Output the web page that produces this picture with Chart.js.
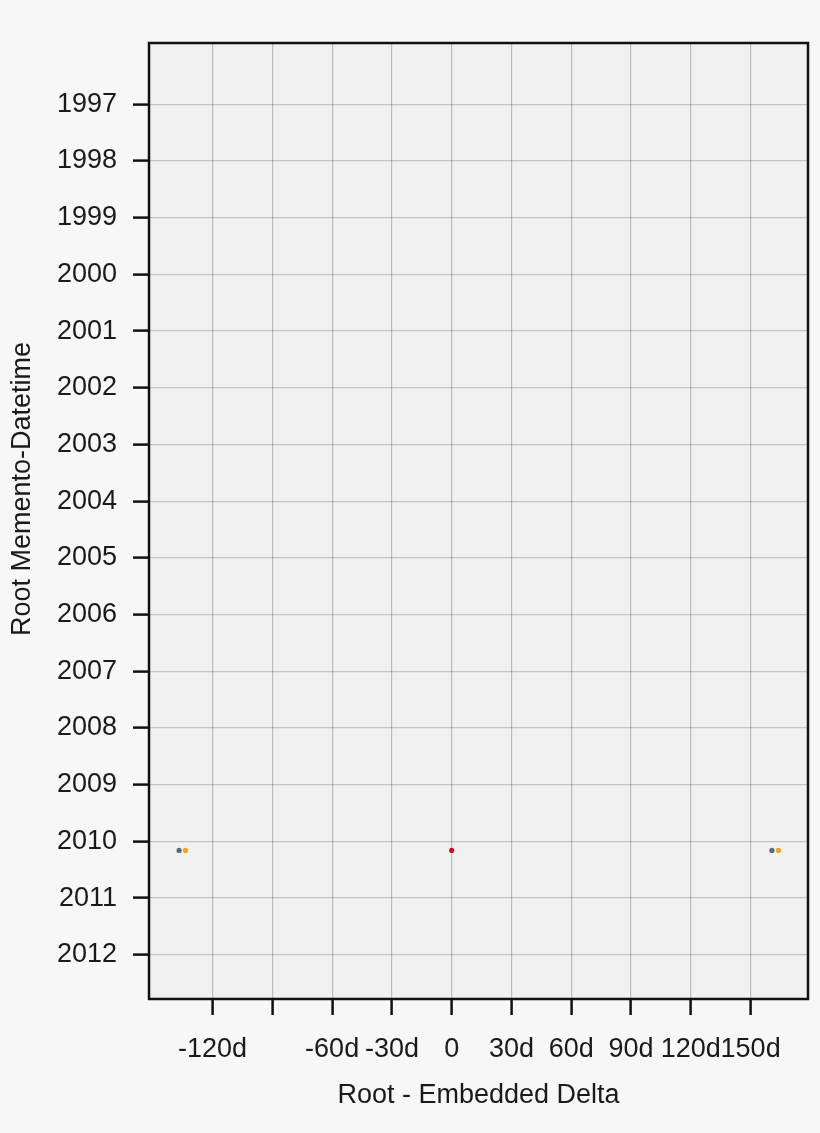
<!DOCTYPE html>
<html>
<head>
<meta charset="utf-8">
<title>Root - Embedded Delta</title>
<script src="https://cdn.jsdelivr.net/npm/chart.js@4"></script>
<style>
  html, body { margin: 0; padding: 0; background: #f7f7f7; }
  #wrap { width: 820px; height: 1133px; position: relative; }
</style>
</head>
<body>
<div id="wrap"><canvas id="deltaChart"></canvas></div>
<script>
// axis ticks
const xTicks = [-120, -90, -60, -30, 0, 30, 60, 90, 120, 150];
const xTickLabels = ['-120d', '', '-60d', '-30d', '0', '30d', '60d', '90d', '120d', '150d'];
const yearTicks = [1997, 1998, 1999, 2000, 2001, 2002, 2003, 2004, 2005, 2006, 2007, 2008, 2009, 2010, 2011, 2012];

// root memento datetime (as fractional year) for each point
const rootYear = 2010.16;

// embedded deltas in days, per series
const grayDeltas = [-136.8, 160.7];
const orangeDeltas = [-133.6, 164.0];
const redDeltas = [0];

const toPoints = arr => arr.map(d => ({ x: d, y: rootYear }));

const FONT = "'Liberation Sans', Arial, Helvetica, sans-serif";
const yTitle = 'Root Memento-Datetime';

// plot background, frame and the y title (sits above centre in the original)
const framePlugin = {
  id: 'frame',
  beforeDraw(chart) {
    const { ctx, chartArea: a } = chart;
    ctx.save();
    ctx.fillStyle = '#f0f0f0';
    ctx.fillRect(a.left, a.top, a.right - a.left, a.bottom - a.top);
    ctx.restore();
  },
  afterDraw(chart) {
    const { ctx, chartArea: a } = chart;
    ctx.save();
    ctx.strokeStyle = '#111';
    ctx.lineWidth = 2.5;
    ctx.strokeRect(a.left, a.top, a.right - a.left, a.bottom - a.top);

    ctx.translate(23, 489);
    ctx.rotate(-Math.PI / 2);
    ctx.fillStyle = '#1a1a1a';
    ctx.font = '27px ' + FONT;
    ctx.textAlign = 'center';
    ctx.textBaseline = 'middle';
    ctx.fillText(yTitle, 0, 0);
    ctx.restore();
  }
};

new Chart(document.getElementById('deltaChart'), {
  type: 'scatter',
  data: {
    datasets: [
      { data: toPoints(grayDeltas), backgroundColor: '#5d6878' },
      { data: toPoints(orangeDeltas), backgroundColor: '#f5a023' },
      { data: toPoints(redDeltas), backgroundColor: '#c8101e' }
    ]
  },
  options: {
    responsive: true,
    maintainAspectRatio: false,
    animation: false,
    layout: { padding: { top: 43, right: 12, left: 0, bottom: 0 } },
    elements: { point: { radius: 2.6, borderWidth: 0, hoverRadius: 2.6 } },
    plugins: {
      legend: { display: false },
      tooltip: { enabled: false }
    },
    scales: {
      x: {
        type: 'linear',
        min: -151.9,
        max: 178.8,
        afterFit(scale) { scale.height = 134; },
        afterBuildTicks(scale) { scale.ticks = xTicks.map(v => ({ value: v })); },
        grid: {
          color: 'rgba(0,0,0,0.22)',
          lineWidth: 1.2,
          tickLength: 16,
          tickColor: '#111',
          tickWidth: 2.5
        },
        border: { display: false },
        ticks: {
          padding: 18,
          maxRotation: 0,
          autoSkip: false,
          color: '#1a1a1a',
          font: { family: FONT, size: 27 },
          callback: (v) => xTickLabels[xTicks.indexOf(v)]
        },
        title: {
          display: true,
          text: 'Root - Embedded Delta',
          color: '#1a1a1a',
          font: { family: FONT, size: 27 },
          padding: { top: 0, bottom: 21 }
        }
      },
      y: {
        type: 'linear',
        reverse: true,
        min: 1995.92,
        max: 2012.78,
        afterFit(scale) { scale.width = 149; },
        afterBuildTicks(scale) { scale.ticks = yearTicks.map(v => ({ value: v })); },
        grid: {
          color: 'rgba(0,0,0,0.18)',
          lineWidth: 1.2,
          tickLength: 16,
          tickColor: '#111',
          tickWidth: 2.5
        },
        border: { display: false },
        ticks: {
          padding: 16,
          autoSkip: false,
          color: '#1a1a1a',
          font: { family: FONT, size: 27 },
          callback: (v) => String(v)
        }
      }
    }
  },
  plugins: [framePlugin]
});
</script>
</body>
</html>
